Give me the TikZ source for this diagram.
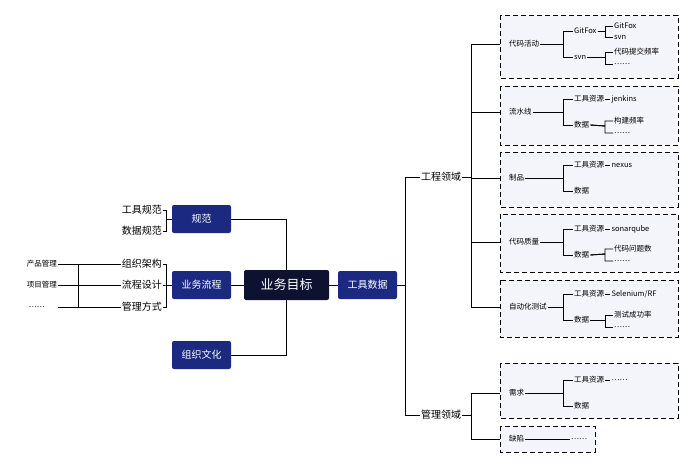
\documentclass[tikz,border=0pt]{standalone}
\usepackage{fontspec}
\setmainfont{Noto Sans CJK SC}
\usetikzlibrary{positioning}
\definecolor{navy}{HTML}{1B2A80}
\definecolor{ink}{HTML}{0C1230}
\definecolor{lav}{HTML}{F4F4FB}
\tikzset{
  tiny/.style={font=\fontsize{7.5}{9}\selectfont, inner sep=1pt},
  mid/.style={font=\fontsize{10}{12}\selectfont, inner sep=1pt},
  topic/.style={fill=navy, text=white, rounded corners=2pt, minimum width=59pt,
    minimum height=28pt, font=\fontsize{10}{12}\selectfont},
  zone/.style={draw, dashed, dash pattern=on 5pt off 3pt, fill=lav, line width=0.8pt},
  link/.style={line width=0.9pt},
}
\begin{document}
\begin{tikzpicture}[x=1pt,y=-1pt]
\useasboundingbox (0,0) rectangle (690,466);

% dashed zones
\draw[zone] (500,15) rectangle (678,78);
\draw[zone] (500,86) rectangle (678,145);
\draw[zone] (500,152) rectangle (678,207);
\draw[zone] (500,214) rectangle (678,272);
\draw[zone] (500,280) rectangle (678,337);
\draw[zone] (500,363) rectangle (678,418);
\draw[zone] (500,426) rectangle (595,452);
\coordinate (z1) at (500,44);
\coordinate (z2) at (500,112);
\coordinate (z3) at (500,178);
\coordinate (z4) at (500,242);
\coordinate (z5) at (500,307);
\coordinate (z6) at (500,393);
\coordinate (z7) at (500,439);

% centre
\node[fill=ink, text=white, rounded corners=2pt, minimum width=85pt, minimum height=30pt,
  font=\fontsize{13}{15}\selectfont] (goal) at (286.5,285) {业务目标};
\node[topic] (norm) at (201.5,219) {规范};
\node[topic] (flow) at (201.5,285) {业务流程};
\node[topic] (cult) at (201.5,355) {组织文化};
\node[topic] (tool) at (367.5,285) {工具数据};
\draw[link] (norm.east) -| (goal.north);
\draw[link] (cult.east) -| (goal.south);
\draw[link] (flow) -- (goal) -- (tool);

% left side
\node[mid, anchor=east] (gjgf) at (163,210) {工具规范};
\node[mid, anchor=east] (sjgf) at (163,231) {数据规范};
\node[mid, anchor=east] (zzjg) at (163,264) {组织架构};
\node[mid, anchor=east] (lcsj) at (163,285) {流程设计};
\node[mid, anchor=east] (glfs) at (163,307) {管理方式};
\foreach \c in {gjgf,sjgf}
  \draw[link] (norm.west) -- ++(-5,0) |- (\c.east);
\foreach \c in {zzjg,lcsj,glfs}
  \draw[link] (flow.west) -- ++(-5,0) |- (\c.east);
\node[tiny, anchor=east] (cpgl) at (58,264) {产品管理};
\node[tiny, anchor=east] (xmgl) at (58,285) {项目管理};
\node[tiny, anchor=east] (dots) at (46,307) {……};
\draw[link] (cpgl.east) -- (zzjg.west);
\draw[link] (xmgl.east) -- (lcsj.west);
\draw[link] (dots.east -| cpgl.east) -- (glfs.west);
\draw[link] (78,264) -- (78,307);

% right side
\node[mid, anchor=west] (gc) at (420,177) {工程领域};
\node[mid, anchor=west] (gl) at (420,415) {管理领域};
\foreach \c in {gc,gl}
  \draw[link] (tool.east) -- ++(8,0) |- (\c.west);
\foreach \c in {z1,z2,z3,z4,z5}
  \draw[link] (gc.east) -- ++(9,0) |- (\c);
\foreach \c in {z6,z7}
  \draw[link] (gl.east) -- ++(9,0) |- (\c);

% zone 1
\node[tiny, anchor=west] (dmhd) at (508,44) {代码活动};
\node[tiny, anchor=west] (gitfox) at (573,31) {GitFox};
\node[tiny, anchor=west] (svn) at (573,57) {svn};
\node[tiny, anchor=west] (gitfox2) at (613,26) {GitFox};
\node[tiny, anchor=west] (svn2) at (613,37) {svn};
\node[tiny, anchor=west] (tjpl) at (613,52) {代码提交频率};
\node[tiny, anchor=west] (dot1) at (613,64) {……};
\foreach \c in {gitfox,svn} \draw[link] (dmhd.east) -| (563,44) |- (\c.west);
\foreach \c in {gitfox2,svn2} \draw[link] (gitfox.east) -- (605,31) |- (\c.west);
\foreach \c in {tjpl,dot1} \draw[link] (svn.east) -- (605,57) |- (\c.west);

% zones 2..6
\foreach \i/\y/\name/\tool in {
    2/112/流水线/jenkins,
    3/178/制品/nexus,
    4/242/代码质量/sonarqube,
    5/307/自动化测试/Selenium\slash RF,
    6/393/需求/……}{
  \node[tiny, anchor=west] (top\i) at (508,\y) {\name};
  \node[tiny, anchor=west] (res\i) at (573,\y-13) {工具资源};
  \node[tiny, anchor=west] (dat\i) at (573,\y+13) {数据};
  \node[tiny, anchor=west, xshift=5pt] (val\i) at (res\i.east) {\tool};
  \draw[link] (res\i.east) -- (val\i.west);
  \foreach \c in {res\i,dat\i} \draw[link] (top\i.east) -| (563,\y) |- (\c.west);
}
\foreach \i/\y/\metric in {2/126/构建频率, 4/254/代码问题数, 5/320/测试成功率} {
  \node[tiny, anchor=west] (m\i) at (613,\y-5) {\metric};
  \node[tiny, anchor=west] (d\i) at (613,\y+7) {……};
  \foreach \c in {m\i,d\i} \draw[link] (dat\i.east) -- (605,\y) |- (\c.west);
}

% zone 7
\node[tiny, anchor=west] (qx) at (508,439) {缺陷};
\node[tiny, anchor=west] (qxd) at (570,439) {……};
\draw[link] (qx.east) -- (qxd.west);
\end{tikzpicture}
\end{document}
